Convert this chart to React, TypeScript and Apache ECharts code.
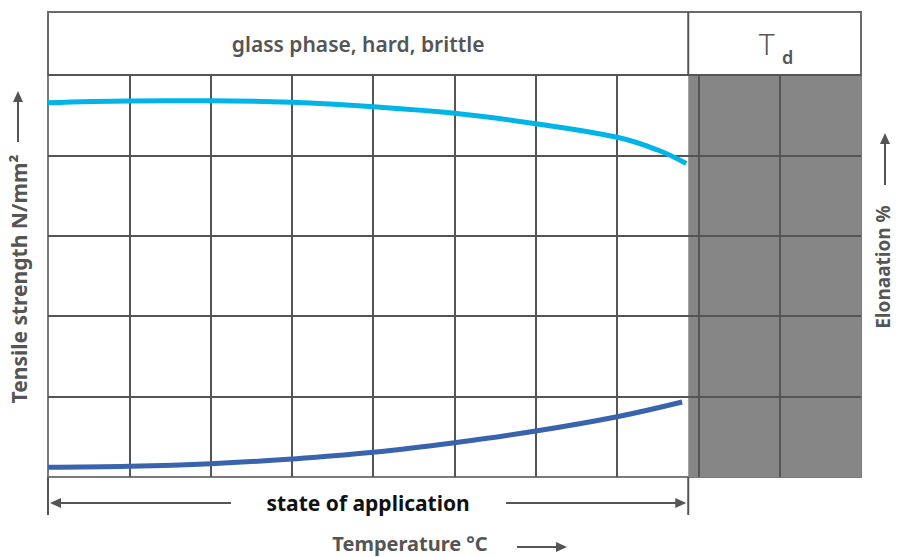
import React, { useEffect, useRef } from "react";
import * as echarts from "echarts";

const xMin = 0;
const xMax = 10;
const yMin = 0;
const yMax = 5;
const tdStart = 7.875;

const tensileX = [0, 1, 2, 3, 4, 5, 6, 7, 7.5, 7.85];
const tensileY = [4.655, 4.677, 4.68, 4.66, 4.605, 4.524, 4.394, 4.225, 4.067, 3.9];
const elongX = [0, 1, 2, 3, 4, 5, 6, 7, 7.8];
const elongY = [0.121, 0.133, 0.165, 0.224, 0.307, 0.427, 0.572, 0.75, 0.933];

const headerLeft = "glass phase, hard, brittle";
const headerT = "T";
const headerSub = "d";
const bottomLabel = "state of application";
const xTitle = "Temperature °C";
const yLeftTitle = "Tensile strength N/mm²";
const yRightTitle = "Elonaation %";

const FONT = "'Noto Sans', 'Open Sans', sans-serif";
const DARK = "#555555";

export default function App() {
  const ref = useRef<HTMLDivElement>(null);
  useEffect(() => {
    if (!ref.current) return;
    const chart = echarts.init(ref.current, undefined, { renderer: "svg" });
    const splitStyle = { color: DARK, width: 2 };
    chart.setOption({
      animation: false,
      grid: {
        left: 48,
        right: 36,
        top: 75,
        bottom: 80,
        show: true,
        borderColor: "#7a7a7a",
        borderWidth: 2,
        backgroundColor: "#ffffff",
      },
      xAxis: {
        type: "value",
        min: xMin,
        max: xMax,
        interval: 1,
        z: 3,
        axisLine: { show: false },
        axisTick: { show: false },
        axisLabel: { show: false },
        splitLine: { show: true, showMinLine: false, showMaxLine: false, lineStyle: splitStyle },
      },
      yAxis: {
        type: "value",
        min: yMin,
        max: yMax,
        interval: 1,
        z: 3,
        axisLine: { show: false },
        axisTick: { show: false },
        axisLabel: { show: false },
        splitLine: { show: true, showMinLine: false, showMaxLine: true, lineStyle: splitStyle },
      },
      series: [
        {
          type: "line",
          data: [],
          z: 1,
          silent: true,
          markArea: {
            silent: true,
            itemStyle: { color: "#868686" },
            data: [[{ xAxis: tdStart, yAxis: yMin }, { xAxis: xMax, yAxis: yMax }]],
          },
        },
        {
          type: "line",
          z: 5,
          smooth: 0.4,
          symbol: "none",
          lineStyle: { color: "#00b4e8", width: 5 },
          data: tensileX.map((x, i) => [x, tensileY[i]]),
        },
        {
          type: "line",
          z: 5,
          smooth: 0.4,
          symbol: "none",
          lineStyle: { color: "#3a63ad", width: 5 },
          data: elongX.map((x, i) => [x, elongY[i]]),
        },
      ],
    });

    const [x0, yBottom] = chart.convertToPixel({ gridIndex: 0 }, [xMin, yMin]) as number[];
    const [xEnd, yTop] = chart.convertToPixel({ gridIndex: 0 }, [xMax, yMax]) as number[];
    const [xTd] = chart.convertToPixel({ gridIndex: 0 }, [tdStart, yMin]) as number[];

    const headerTop = 12;
    const lineY = 503;
    const tickBottom = 515;
    const arrowStyle = { stroke: DARK, lineWidth: 2 };
    const head = (tipX: number, tipY: number, dir: "l" | "r" | "u") => {
      let pts: number[][];
      if (dir === "l") pts = [[tipX, tipY], [tipX + 11, tipY - 5], [tipX + 11, tipY + 5]];
      else if (dir === "r") pts = [[tipX, tipY], [tipX - 11, tipY - 5], [tipX - 11, tipY + 5]];
      else pts = [[tipX, tipY], [tipX - 5, tipY + 11], [tipX + 5, tipY + 11]];
      return { type: "polygon", shape: { points: pts }, style: { fill: DARK }, z: 10 };
    };
    const midLeft = (x0 + xTd) / 2;
    const midTd = (xTd + xEnd) / 2;

    chart.setOption({
      graphic: [
        {
          type: "rect",
          z: 10,
          shape: { x: x0, y: headerTop, width: xEnd - x0, height: yTop - headerTop },
          style: { fill: "#ffffff", stroke: "#6a6a6a", lineWidth: 2 },
        },
        {
          type: "line",
          z: 10,
          shape: { x1: xTd, y1: headerTop, x2: xTd, y2: yTop },
          style: arrowStyle,
        },
        {
          type: "line",
          z: 10,
          shape: { x1: x0, y1: yTop, x2: xEnd, y2: yTop },
          style: arrowStyle,
        },
        {
          type: "text",
          z: 11,
          x: midLeft - 10,
          y: (headerTop + yTop) / 2,
          style: {
            text: headerLeft,
            fill: DARK,
            font: `600 21px ${FONT}`,
            align: "center",
            verticalAlign: "middle",
          },
        },
        {
          type: "text",
          z: 11,
          x: midTd - 8,
          y: (headerTop + yTop) / 2,
          style: {
            text: headerT,
            fill: DARK,
            font: `300 30px ${FONT}`,
            align: "center",
            verticalAlign: "middle",
          },
        },
        {
          type: "text",
          z: 11,
          x: midTd + 13,
          y: 57,
          style: {
            text: headerSub,
            fill: DARK,
            font: `600 18px ${FONT}`,
            align: "center",
            verticalAlign: "middle",
          },
        },
        // vertical ticks below plot
        { type: "line", z: 10, shape: { x1: x0, y1: yBottom, x2: x0, y2: tickBottom }, style: arrowStyle },
        { type: "line", z: 10, shape: { x1: xTd, y1: yBottom, x2: xTd, y2: tickBottom }, style: arrowStyle },
        // state of application arrows
        { type: "line", z: 10, shape: { x1: x0 + 4, y1: lineY, x2: 231, y2: lineY }, style: arrowStyle },
        head(x0 + 2, lineY, "l"),
        { type: "line", z: 10, shape: { x1: 506, y1: lineY, x2: xTd - 6, y2: lineY }, style: arrowStyle },
        head(xTd - 2, lineY, "r"),
        {
          type: "text",
          z: 11,
          x: midLeft,
          y: lineY,
          style: {
            text: bottomLabel,
            fill: "#111111",
            font: `700 21px ${FONT}`,
            align: "center",
            verticalAlign: "middle",
          },
        },
        // temperature title
        {
          type: "text",
          z: 11,
          x: 410,
          y: 543,
          style: {
            text: xTitle,
            fill: DARK,
            font: `700 20px ${FONT}`,
            align: "center",
            verticalAlign: "middle",
          },
        },
        { type: "line", z: 10, shape: { x1: 517, y1: 547, x2: 562, y2: 547 }, style: arrowStyle },
        head(567, 547, "r"),
        // left axis title
        {
          type: "text",
          z: 11,
          x: 19,
          y: 279,
          rotation: Math.PI / 2,
          style: {
            text: yLeftTitle,
            fill: DARK,
            font: `700 21px ${FONT}`,
            align: "center",
            verticalAlign: "middle",
          },
        },
        { type: "line", z: 10, shape: { x1: 18, y1: 142, x2: 18, y2: 96 }, style: arrowStyle },
        head(18, 91, "u"),
        // right axis title
        {
          type: "text",
          z: 11,
          x: 883,
          y: 267,
          rotation: Math.PI / 2,
          style: {
            text: yRightTitle,
            fill: DARK,
            font: `700 19px ${FONT}`,
            align: "center",
            verticalAlign: "middle",
          },
        },
        { type: "line", z: 10, shape: { x1: 885, y1: 185, x2: 885, y2: 138 }, style: arrowStyle },
        head(885, 133, "u"),
      ],
    });

    return () => chart.dispose();
  }, []);
  return (
    <div
      ref={ref}
      style={{ position: "fixed", left: 0, top: 0, width: 897, height: 557, background: "#ffffff" }}
    />
  );
}
